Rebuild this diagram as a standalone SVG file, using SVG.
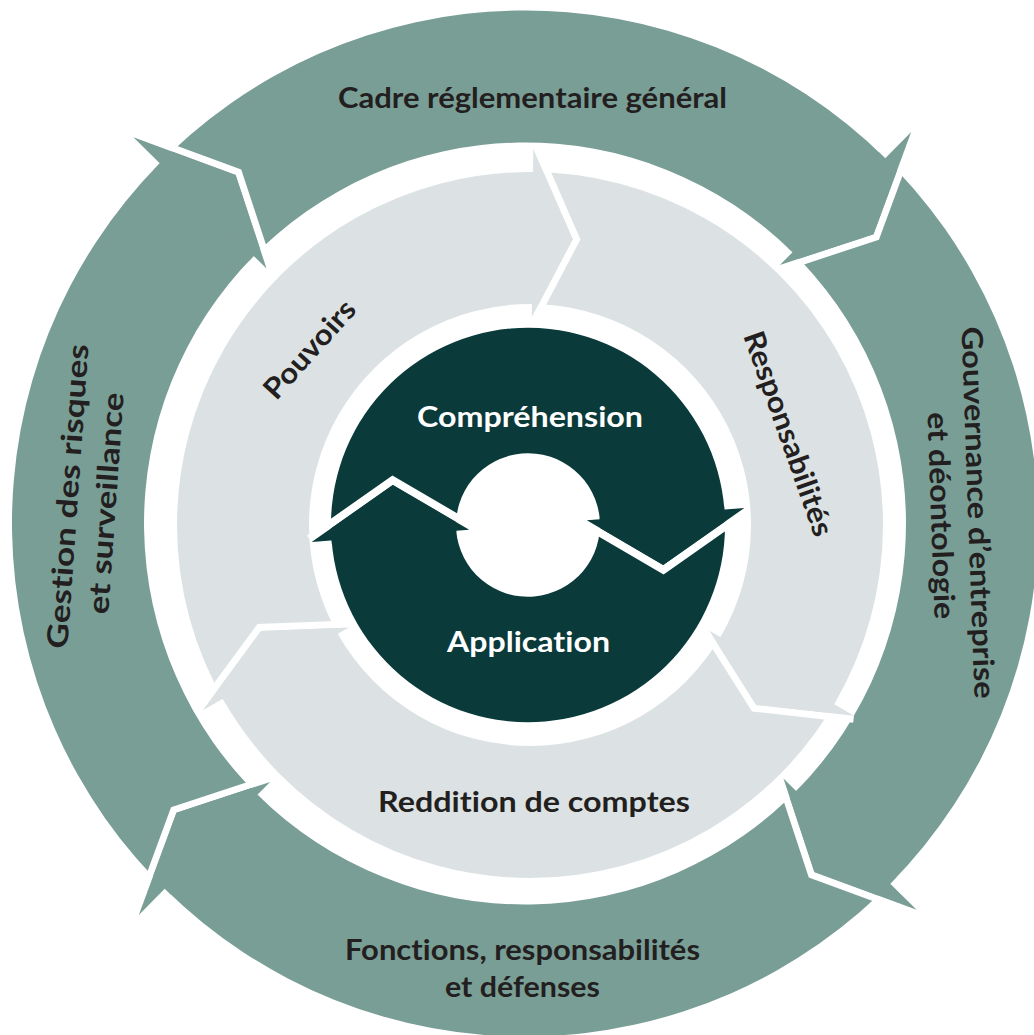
<svg xmlns="http://www.w3.org/2000/svg" xmlns:xlink="http://www.w3.org/1999/xlink" width="1034" height="1035" viewBox="0 0 1034 1035">
<style>
.teal{fill:#799e96}
.grey{fill:#dce2e3}
.dark{fill:#0a3a3a}
.gap{fill:#ffffff}
.lbl{font-family:Lato,"Open Sans","Liberation Sans",sans-serif;font-weight:700;font-size:29px;fill:#231f20;text-anchor:middle;font-variant-ligatures:none}
.wht{fill:#ffffff}
</style>
<defs>
<polygon id="headO" points="0,-550 44.99,-450.76 0,-363"/>
<polygon id="gapO" points="0,-550 44.99,-450.76 0,-363 6.23,-359.81 52.76,-450.57 6.38,-552.89"/>
<polygon id="headM" points="0,-376 40.22,-286.19 0,-208"/>
<polygon id="gapM" points="0,-376 40.22,-286.19 0,-208 6.22,-204.80 47.98,-285.98 6.39,-378.86"/>
<polygon id="headD" points="0,-217 50.53,-131.63 0,-59"/>
<polygon id="gapD" points="0,-217 50.53,-131.63 0,-59 6.57,-54.43 60.03,-131.28 6.89,-221.08"/>
</defs>
<rect x="0" y="0" width="1034" height="1035" fill="#ffffff"/>

<g id="cadre">
<path class="teal" d="M153.5,169.7 A513,513 0 0 1 885.2,158.2 L792.5,252.2 A381,381 0 0 0 249.1,260.8 Z"/>
<text class="lbl" x="532.5" y="108" textLength="389" lengthAdjust="spacingAndGlyphs">Cadre réglementaire général</text>
</g>
<g id="gouvernance">
<path class="teal" d="M878.8,152.0 A513,513 0 0 1 890.3,883.7 L796.3,791.0 A381,381 0 0 0 787.7,247.6 Z"/>
<text class="lbl" transform="translate(968,513) rotate(88)" x="0" y="0" textLength="372" lengthAdjust="spacingAndGlyphs">Gouvernance d’entreprise</text>
<text class="lbl" transform="translate(931,516) rotate(88)" x="0" y="0" textLength="207" lengthAdjust="spacingAndGlyphs">et déontologie</text>
</g>
<g id="fonctions">
<path class="teal" d="M896.5,877.3 A513,513 0 0 1 164.8,888.8 L257.5,794.8 A381,381 0 0 0 800.9,786.2 Z"/>
<text class="lbl" x="522.5" y="960" textLength="355" lengthAdjust="spacingAndGlyphs">Fonctions, responsabilités</text>
<text class="lbl" x="522.5" y="997" textLength="155" lengthAdjust="spacingAndGlyphs">et défenses</text>
</g>
<g id="gestion">
<path class="teal" d="M171.2,895.0 A513,513 0 0 1 159.7,163.3 L253.7,256.0 A381,381 0 0 0 262.3,799.4 Z"/>
<text class="lbl" transform="translate(78,497) rotate(-86)" x="0" y="0" textLength="305" lengthAdjust="spacingAndGlyphs">Gestion des risques</text>
<text class="lbl" transform="translate(116,504) rotate(-86)" x="0" y="0" textLength="222" lengthAdjust="spacingAndGlyphs">et surveillance</text>
</g>

<g id="responsabilites">
<path class="grey" d="M526.92,172.01 A353,353 0 0 1 834.16,704.16 L720.42,637.17 A221,221 0 0 0 528.07,304.01 Z"/>
<text class="lbl" transform="translate(779,437) rotate(70.5)" x="0" y="0" textLength="215" lengthAdjust="spacingAndGlyphs">Responsabilités</text>
</g>
<g id="reddition">
<path class="grey" d="M837.24,698.83 A353,353 0 0 1 222.76,698.83 L337.65,633.83 A221,221 0 0 0 722.35,633.83 Z"/>
<text class="lbl" x="534" y="812" textLength="312" lengthAdjust="spacingAndGlyphs">Reddition de comptes</text>
</g>
<g id="pouvoirs">
<path class="grey" d="M225.84,704.16 A353,353 0 0 1 533.08,172.01 L531.93,304.01 A221,221 0 0 0 339.58,637.17 Z"/>
<text class="lbl" transform="translate(317,356) rotate(-48)" x="0" y="0" textLength="122" lengthAdjust="spacingAndGlyphs">Pouvoirs</text>
</g>

<g id="comprehension">
<path class="dark" d="M331.91,543.88 A197,197 0 1 1 724.39,509.54 L599.78,519.35 A72,72 0 1 0 456.33,531.90 Z"/>
<text class="lbl wht" x="530" y="427" textLength="226" lengthAdjust="spacingAndGlyphs">Compréhension</text>
</g>
<g id="application">
<path class="dark" d="M724.09,506.12 A197,197 0 1 1 331.61,540.46 L456.22,530.65 A72,72 0 1 0 599.67,518.10 Z"/>
<text class="lbl wht" x="528.5" y="652" textLength="163" lengthAdjust="spacingAndGlyphs">Application</text>
</g>

<g id="connectors">
<use xlink:href="#gapO" href="#gapO" class="gap" transform="translate(525,523.5) rotate(44.6)"/>
<use xlink:href="#gapO" href="#gapO" class="gap" transform="translate(525,523.5) rotate(134.6)"/>
<use xlink:href="#gapO" href="#gapO" class="gap" transform="translate(525,523.5) rotate(224.6)"/>
<use xlink:href="#gapO" href="#gapO" class="gap" transform="translate(525,523.5) rotate(314.6)"/>
<use xlink:href="#headO" href="#headO" class="teal" transform="translate(525,523.5) rotate(44.6)"/>
<use xlink:href="#headO" href="#headO" class="teal" transform="translate(525,523.5) rotate(134.6)"/>
<use xlink:href="#headO" href="#headO" class="teal" transform="translate(525,523.5) rotate(224.6)"/>
<use xlink:href="#headO" href="#headO" class="teal" transform="translate(525,523.5) rotate(314.6)"/>
<use xlink:href="#gapM" href="#gapM" class="gap" transform="translate(530,525) rotate(0.5)"/>
<use xlink:href="#gapM" href="#gapM" class="gap" transform="translate(530,525) rotate(120.5)"/>
<use xlink:href="#gapM" href="#gapM" class="gap" transform="translate(530,525) rotate(240.5)"/>
<use xlink:href="#headM" href="#headM" class="grey" transform="translate(530,525) rotate(0.5)"/>
<use xlink:href="#headM" href="#headM" class="grey" transform="translate(530,525) rotate(120.5)"/>
<use xlink:href="#headM" href="#headM" class="grey" transform="translate(530,525) rotate(240.5)"/>
<use xlink:href="#gapD" href="#gapD" class="gap" transform="translate(528,525) rotate(85.5)"/>
<use xlink:href="#gapD" href="#gapD" class="gap" transform="translate(528,525) rotate(265.5)"/>
<use xlink:href="#headD" href="#headD" class="dark" transform="translate(528,525) rotate(85.5)"/>
<use xlink:href="#headD" href="#headD" class="dark" transform="translate(528,525) rotate(265.5)"/>
</g>
</svg>
